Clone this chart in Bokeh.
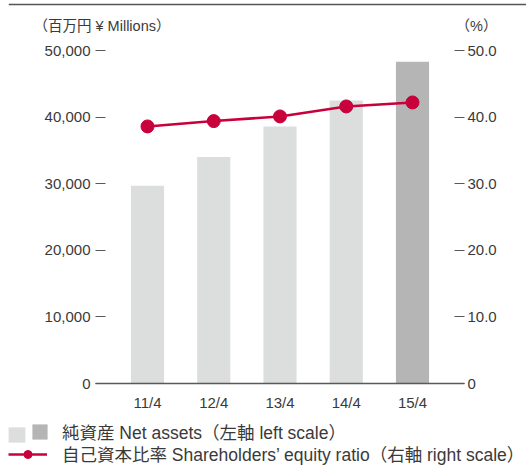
from bokeh.plotting import figure
from bokeh.layouts import column
from bokeh.models import (Range1d, LinearAxis, FixedTicker, NumeralTickFormatter,
                          CustomJSTickFormatter, Legend, LegendItem, Label, Span,
                          ColumnDataSource, FactorRange)
from bokeh.embed import file_html
from bokeh.resources import INLINE

# ---- data ----
categories = ["11/4", "12/4", "13/4", "14/4", "15/4"]
net_assets = [29700, 34000, 38600, 42500, 48300]          # 百万円
equity_ratio = [38.6, 39.4, 40.1, 41.6, 42.2]             # %
left_ticks = [0, 10000, 20000, 30000, 40000, 50000]
right_ticks = [0, 10, 20, 30, 40, 50]
left_title = "（百万円 ¥ Millions）"
right_title = "（%）"
bar_label = "純資産 Net assets（左軸 left scale）"
line_label = "自己資本比率 Shareholders’ equity ratio（右軸 right scale）"

# ---- styles ----
LIGHT = "#dcdddd"
DARK = "#b5b5b6"
RED = "#c8003c"
TXT = "#3a3a3a"
AX = "#595959"
FONT = "Liberation Sans, Noto Sans CJK JP"
W = 526

bar_colors = [LIGHT] * (len(categories) - 1) + [DARK]

# ---------------- top strip: axis titles ----------------
TOP_H = 38
top = figure(width=W, height=TOP_H, x_range=Range1d(8, W), y_range=Range1d(TOP_H, 0),
             output_backend="svg", toolbar_location=None, frame_align=False,
             x_axis_location=None, y_axis_location=None,
             min_border_left=8, min_border_right=0, min_border_top=0, min_border_bottom=0)
top.outline_line_color = None
top.xgrid.visible = False
top.ygrid.visible = False
top.add_layout(Span(location=4, dimension="width", line_color="#555555", line_width=1.3))
top.add_layout(Label(x=33, y=25, text=left_title, text_font=FONT, text_font_size="14.5px",
                     text_color=TXT, text_baseline="middle", text_align="left"))
top.add_layout(Label(x=455, y=25, text=right_title, text_font=FONT, text_font_size="14.5px",
                     text_color=TXT, text_baseline="middle", text_align="left"))

# ---------------- main chart ----------------
src = ColumnDataSource(dict(cat=categories, val=net_assets, ratio=equity_ratio, color=bar_colors))

p = figure(x_range=FactorRange(factors=categories, range_padding=0.114),
           y_range=Range1d(0, 50000), frame_align=False,
           width=W, height=377, output_backend="svg", toolbar_location=None,
           min_border_left=95, min_border_right=62, min_border_top=12, min_border_bottom=32)
p.extra_y_ranges = {"pct": Range1d(0, 50)}
p.outline_line_color = None
p.xgrid.grid_line_color = None
p.ygrid.grid_line_color = None

bars = p.vbar(x="cat", top="val", width=0.5, fill_color="color", line_color=None, source=src)
ln = p.line(x="cat", y="ratio", y_range_name="pct", line_color=RED, line_width=2.5, source=src)
dots = p.scatter(x="cat", y="ratio", y_range_name="pct", size=13, fill_color=RED,
                 line_color=RED, source=src)

xa = p.xaxis[0]
xa.major_tick_in = 0
xa.major_tick_out = 0
xa.minor_tick_line_color = None
xa.axis_line_color = AX
xa.axis_line_width = 1.5
xa.major_label_standoff = 10
xa.major_label_text_font = FONT
xa.major_label_text_font_size = "15px"
xa.major_label_text_color = TXT

ya = p.yaxis[0]
ya.ticker = FixedTicker(ticks=left_ticks)
ya.formatter = NumeralTickFormatter(format="0,0")
ya.axis_line_color = None
ya.major_tick_in = 10
ya.major_tick_out = 0
ya.major_tick_line_color = AX
ya.major_tick_line_width = 1.2
ya.minor_tick_line_color = None
ya.major_label_standoff = 5
ya.major_label_text_font = FONT
ya.major_label_text_font_size = "15px"
ya.major_label_text_color = TXT

ra = LinearAxis(y_range_name="pct", ticker=FixedTicker(ticks=right_ticks),
                formatter=CustomJSTickFormatter(code="return tick == 0 ? '0' : tick.toFixed(1);"))
ra.axis_line_color = None
ra.major_tick_in = 10
ra.major_tick_out = 0
ra.major_tick_line_color = AX
ra.major_tick_line_width = 1.2
ra.minor_tick_line_color = None
ra.major_label_standoff = 3
ra.major_label_text_font = FONT
ra.major_label_text_font_size = "15px"
ra.major_label_text_color = TXT
p.add_layout(ra, "right")

# ---------------- legend strip ----------------
LEG_H = 51
lf = figure(width=W, height=LEG_H, x_range=Range1d(0, W), y_range=Range1d(0, LEG_H),
            output_backend="svg", toolbar_location=None, frame_align=False,
            x_axis_location=None, y_axis_location=None,
            min_border_left=0, min_border_right=0, min_border_top=0, min_border_bottom=0)
lf.outline_line_color = None
lf.xgrid.visible = False
lf.ygrid.visible = False

# legend-only renderers (their single point lies outside the visible range)
r_light = lf.vbar(x=[-1000], top=[-1000], width=1, fill_color=LIGHT, line_color=None)
r_dark = lf.vbar(x=[-1000], top=[-1000], width=1, fill_color=DARK, line_color=None)
r_line = lf.line(x=[-1000, -999], y=[-1000, -1000], line_color=RED, line_width=2.5)
r_dot = lf.scatter(x=[-1000], y=[-1000], fill_color=RED, line_color=RED)

def mk_legend(items, loc, gw, gh, standoff):
    lg = Legend(items=items, location=loc, orientation="vertical",
                glyph_width=gw, glyph_height=gh, label_standoff=standoff,
                label_text_font=FONT, label_text_font_size="17.5px", label_text_color=TXT,
                padding=0, margin=0, spacing=0, border_line_color=None,
                background_fill_alpha=0, label_height=20, label_width=0)
    lf.add_layout(lg)
    return lg

mk_legend([LegendItem(label=" ", renderers=[r_light])], (6, 22), 21, 19, 0)
mk_legend([LegendItem(label=bar_label, renderers=[r_dark])], (30, 22), 19, 19, 13)
mk_legend([LegendItem(label=line_label, renderers=[r_line, r_dot])], (8, 0), 39, 20, 15)

layout = column(top, p, lf, spacing=0)
open("out.html", "w").write(file_html(layout, INLINE))
